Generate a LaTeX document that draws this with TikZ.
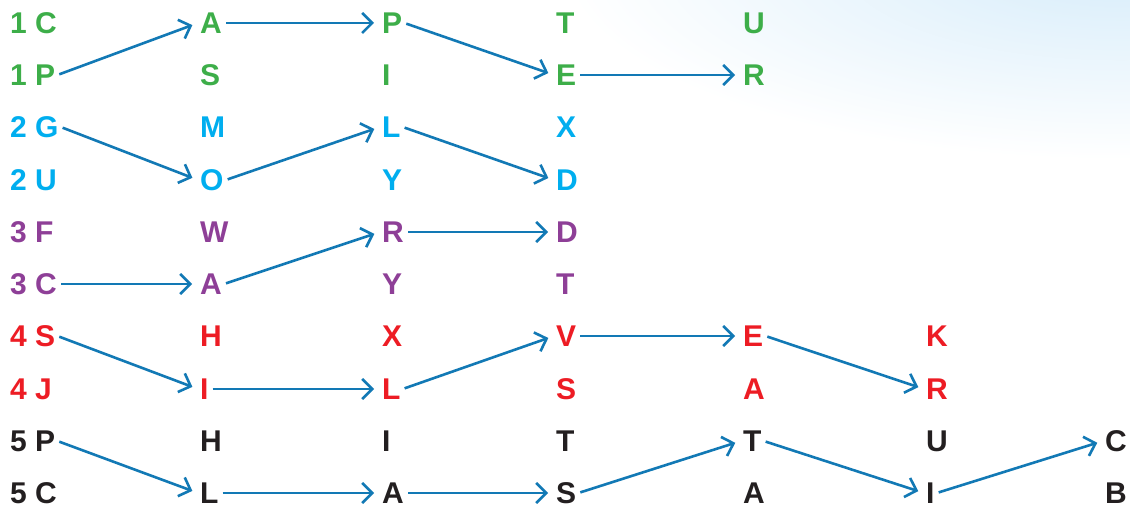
\documentclass[tikz,border=0pt]{standalone}
\usepackage{fontspec}
\setmainfont{Liberation Sans}
\usetikzlibrary{arrows.meta}
\definecolor{RowGreen}{HTML}{3DAE49}
\definecolor{RowCyan}{HTML}{00AEEF}
\definecolor{RowPurple}{HTML}{8E3F97}
\definecolor{RowRed}{HTML}{ED1C24}
\definecolor{RowInk}{HTML}{231F20}
\definecolor{LinkBlue}{HTML}{1279B5}
\definecolor{SkyTint}{HTML}{D6ECFA}
\tikzset{
  every node/.style={font=\fontsize{30}{36}\selectfont\bfseries},
  letter/.style={anchor=west, inner sep=2pt, text height=21.5pt, text depth=0pt},
  bandone/.style={letter, text=RowGreen},
  bandtwo/.style={letter, text=RowCyan},
  bandthree/.style={letter, text=RowPurple},
  bandfour/.style={letter, text=RowRed},
  bandfive/.style={letter, text=RowInk},
  link/.style={-{Straight Barb[length=10pt,width=20pt]}, draw=LinkBlue, line width=2.6pt, shorten <=2pt, shorten >=6pt},
}

\begin{document}
\begin{tikzpicture}[x=1pt,y=-1pt]
  % Background: white page with a pale sky in the top right corner
  \useasboundingbox (0,0) rectangle (1130,510);
  \fill[white] (0,0) rectangle (1130,510);
  \begin{scope}
    \clip (0,0) rectangle (1130,510);
    \shade[inner color=SkyTint, outer color=white] (1120,-40) ellipse (560 and 200);
  \end{scope}
  % Band 1 (green)
  \node[bandone] (r1c0) at (8,23) {1 C};
  \node[bandone] (r1c1) at (198,23) {A};
  \node[bandone] (r1c2) at (380,23) {P};
  \node[bandone] (r1c3) at (554,23) {T};
  \node[bandone] (r1c4) at (741,23) {U};
  \node[bandone] (r2c0) at (8,75) {1 P};
  \node[bandone] (r2c1) at (198,75) {S};
  \node[bandone] (r2c2) at (380,75) {I};
  \node[bandone] (r2c3) at (554,75) {E};
  \node[bandone] (r2c4) at (741,75) {R};
  % Band 2 (cyan)
  \node[bandtwo] (r3c0) at (8,127) {2 G};
  \node[bandtwo] (r3c1) at (198,127) {M};
  \node[bandtwo] (r3c2) at (380,127) {L};
  \node[bandtwo] (r3c3) at (554,127) {X};
  \node[bandtwo] (r4c0) at (8,180) {2 U};
  \node[bandtwo] (r4c1) at (198,180) {O};
  \node[bandtwo] (r4c2) at (380,180) {Y};
  \node[bandtwo] (r4c3) at (554,180) {D};
  % Band 3 (purple)
  \node[bandthree] (r5c0) at (8,232) {3 F};
  \node[bandthree] (r5c1) at (198,232) {W};
  \node[bandthree] (r5c2) at (380,232) {R};
  \node[bandthree] (r5c3) at (554,232) {D};
  \node[bandthree] (r6c0) at (8,284) {3 C};
  \node[bandthree] (r6c1) at (198,284) {A};
  \node[bandthree] (r6c2) at (380,284) {Y};
  \node[bandthree] (r6c3) at (554,284) {T};
  % Band 4 (red)
  \node[bandfour] (r7c0) at (8,336) {4 S};
  \node[bandfour] (r7c1) at (198,336) {H};
  \node[bandfour] (r7c2) at (380,336) {X};
  \node[bandfour] (r7c3) at (554,336) {V};
  \node[bandfour] (r7c4) at (741,336) {E};
  \node[bandfour] (r7c5) at (924,336) {K};
  \node[bandfour] (r8c0) at (8,389) {4 J};
  \node[bandfour] (r8c1) at (198,389) {I};
  \node[bandfour] (r8c2) at (380,389) {L};
  \node[bandfour] (r8c3) at (554,389) {S};
  \node[bandfour] (r8c4) at (741,389) {A};
  \node[bandfour] (r8c5) at (924,389) {R};
  % Band 5 (black)
  \node[bandfive] (r9c0) at (8,441) {5 P};
  \node[bandfive] (r9c1) at (198,441) {H};
  \node[bandfive] (r9c2) at (380,441) {I};
  \node[bandfive] (r9c3) at (554,441) {T};
  \node[bandfive] (r9c4) at (741,441) {T};
  \node[bandfive] (r9c5) at (924,441) {U};
  \node[bandfive] (r9c6) at (1103,441) {C};
  \node[bandfive] (r10c0) at (8,493) {5 C};
  \node[bandfive] (r10c1) at (198,493) {L};
  \node[bandfive] (r10c2) at (380,493) {A};
  \node[bandfive] (r10c3) at (554,493) {S};
  \node[bandfive] (r10c4) at (741,493) {A};
  \node[bandfive] (r10c5) at (924,493) {I};
  \node[bandfive] (r10c6) at (1103,493) {B};
  % Paths through the letters
  \draw[link] (r2c0.east) -- (r1c1.west);
  \draw[link] (r1c1.east) -- (r1c2.west);
  \draw[link] (r1c2.east) -- (r2c3.west);
  \draw[link] (r2c3.east) -- (r2c4.west);
  \draw[link] (r3c0.east) -- (r4c1.west);
  \draw[link] (r4c1.east) -- (r3c2.west);
  \draw[link] (r3c2.east) -- (r4c3.west);
  \draw[link] (r6c0.east) -- (r6c1.west);
  \draw[link] (r6c1.east) -- (r5c2.west);
  \draw[link] (r5c2.east) -- (r5c3.west);
  \draw[link] (r7c0.east) -- (r8c1.west);
  \draw[link] (r8c1.east) -- (r8c2.west);
  \draw[link] (r8c2.east) -- (r7c3.west);
  \draw[link] (r7c3.east) -- (r7c4.west);
  \draw[link] (r7c4.east) -- (r8c5.west);
  \draw[link] (r9c0.east) -- (r10c1.west);
  \draw[link] (r10c1.east) -- (r10c2.west);
  \draw[link] (r10c2.east) -- (r10c3.west);
  \draw[link] (r10c3.east) -- (r9c4.west);
  \draw[link] (r9c4.east) -- (r10c5.west);
  \draw[link] (r10c5.east) -- (r9c6.west);
\end{tikzpicture}
\end{document}
